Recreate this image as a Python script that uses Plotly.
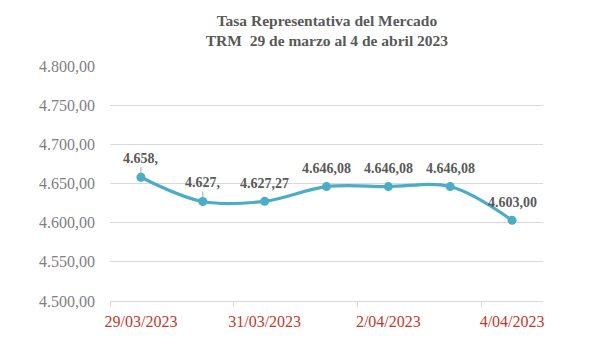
import plotly.graph_objects as go

dates = ["29/03/2023", "30/03/2023", "31/03/2023", "1/04/2023", "2/04/2023", "3/04/2023", "4/04/2023"]
trm = [4658.0, 4627.0, 4627.27, 4646.08, 4646.08, 4646.08, 4603.00]
data_labels = ["4.658,", "4.627,", "4.627,27", "4.646,08", "4.646,08", "4.646,08", "4.603,00"]
leader = [True, True, False, False, False, False, False]
x_tick_idx = [0, 2, 4, 6]
y_ticks = [4500, 4550, 4600, 4650, 4700, 4750, 4800]
y_tick_text = ["4.500,00", "4.550,00", "4.600,00", "4.650,00", "4.700,00", "4.750,00", "4.800,00"]

serif = "Liberation Serif, DejaVu Serif, serif"
xs = list(range(len(dates)))

fig = go.Figure()
fig.add_trace(go.Scatter(
    x=xs, y=trm, mode="lines+markers",
    line=dict(color="#4BACC6", width=3.2, shape="spline", smoothing=1.0),
    marker=dict(color="#4BACC6", size=9),
    hoverinfo="skip", showlegend=False,
))
# invisible trace for second x-axis (tick marks at category boundaries)
fig.add_trace(go.Scatter(x=[-0.5, 6.5], y=[None, None], xaxis="x2", showlegend=False, hoverinfo="skip"))

for i, (v, lab, ld) in enumerate(zip(trm, data_labels, leader)):
    if ld:
        fig.add_annotation(x=i, y=v, text=f"<b>{lab}</b>", showarrow=True, ax=0, ay=-19,
                           arrowhead=0, arrowwidth=1, arrowcolor="#A6A6A6", standoff=4,
                           font=dict(family=serif, size=14, color="#595959"))
    else:
        fig.add_annotation(x=i, y=v, text=f"<b>{lab}</b>", showarrow=False, yshift=18,
                           font=dict(family=serif, size=14, color="#595959"))

fig.update_layout(
    width=601, height=338,
    margin=dict(l=110, r=58, t=66, b=37),
    paper_bgcolor="white", plot_bgcolor="white",
    title=dict(text="<b>Tasa Representativa del Mercado<br>TRM  29 de marzo al 4 de abril 2023</b>",
               x=0.544, xanchor="center", y=0.923, yanchor="middle",
               font=dict(family=serif, size=15.5, color="#595959")),
    xaxis=dict(range=[-0.5, 6.5], tickvals=x_tick_idx, ticktext=[dates[i] for i in x_tick_idx],
               showgrid=False, zeroline=False, showline=True, linecolor="#D9D9D9", linewidth=1,
               ticks="", ticklabelstandoff=6, automargin=False,
               tickfont=dict(family=serif, size=16, color="#C0392B"), fixedrange=True),
    xaxis2=dict(range=[-0.5, 6.5], overlaying="x", anchor="y", side="bottom", automargin=False,
                tickvals=[-0.5, 1.5, 3.5, 5.5], showticklabels=False, ticks="outside",
                ticklen=5, tickcolor="#D9D9D9", tickwidth=1, showgrid=False, zeroline=False),
    yaxis=dict(range=[4500, 4800], tickvals=y_ticks, ticktext=y_tick_text, automargin=False,
               showgrid=True, gridcolor="#D9D9D9", gridwidth=1, zeroline=False,
               showline=False, ticks="", ticklen=0, ticklabelstandoff=14,
               tickfont=dict(family=serif, size=16, color="#808080")),
)

fig.write_html("out.html")
